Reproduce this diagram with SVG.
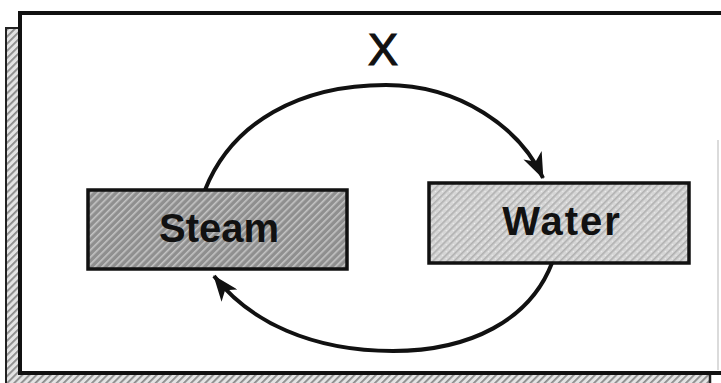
<svg xmlns="http://www.w3.org/2000/svg" width="721" height="383" viewBox="0 0 721 383">
  <defs>
    <pattern id="hatchDark" width="5" height="5" patternUnits="userSpaceOnUse" patternTransform="rotate(45)">
      <rect width="5" height="5" fill="#8f8f8f"/>
      <rect width="1.6" height="5" fill="#c4c4c4"/>
    </pattern>
    <pattern id="hatchLight" width="5" height="5" patternUnits="userSpaceOnUse" patternTransform="rotate(45)">
      <rect width="5" height="5" fill="#d6d6d6"/>
      <rect width="1.6" height="5" fill="#b0b0b0"/>
      <rect x="3" y="2" width="1" height="1" fill="#f2f2f2"/>
    </pattern>
    <pattern id="hatchPage" width="5" height="5" patternUnits="userSpaceOnUse" patternTransform="rotate(45)">
      <rect width="5" height="5" fill="#e4e4e4"/>
      <rect width="1.8" height="5" fill="#8a8a8a"/>
    </pattern>
    <marker id="arrow" viewBox="0 0 26 20" refX="25" refY="10" markerWidth="26" markerHeight="20" markerUnits="userSpaceOnUse" orient="auto">
      <path d="M0,0 L26,10 L0,20 L7,10 Z" fill="#111"/>
    </marker>
    <style>
      .box { stroke: #111; stroke-width: 3.5; }
      .label { font-family: "Liberation Sans", "DejaVu Sans", sans-serif; fill: #111; text-anchor: middle; }
      .node-text { font-weight: bold; }
      .conn { fill: none; stroke: #111; stroke-width: 4; marker-end: url(#arrow); }
    </style>
  </defs>

  <rect width="721" height="383" fill="#ffffff"/>

  <g id="back-page">
    <rect x="6" y="28" width="16" height="360" fill="url(#hatchPage)" stroke="#222" stroke-width="2"/>
    <rect x="20" y="373" width="690" height="15" fill="url(#hatchPage)"/>
    <line x1="710" y1="370" x2="710" y2="383" stroke="#222" stroke-width="2.5"/>
  </g>

  <g id="frame">
    <rect x="20" y="13" width="710" height="360" fill="#ffffff" stroke="#111" stroke-width="4"/>
    <line x1="718" y1="140" x2="718" y2="370" stroke="#cfcfcf" stroke-width="1.5"/>
  </g>

  <g id="label-x">
    <text class="label" x="383" y="65" font-size="45" stroke="#111" stroke-width="1.2">X</text>
  </g>

  <g id="connectors">
    <path class="conn" d="M205,190 C232,122 300,85 386,85 C460,85 520,128 543,178"/>
    <path class="conn" d="M552,263 C530,320 470,351 393,351 C312,351 250,322 214,276"/>
  </g>

  <g id="node-steam">
    <rect class="box" x="88" y="190" width="259" height="79" fill="url(#hatchDark)"/>
    <text class="label node-text" x="219" y="242" font-size="40">Steam</text>
  </g>

  <g id="node-water">
    <rect class="box" x="429" y="183" width="260" height="80" fill="url(#hatchLight)"/>
    <text class="label node-text" x="562" y="235" font-size="40" letter-spacing="2">Water</text>
  </g>
</svg>
